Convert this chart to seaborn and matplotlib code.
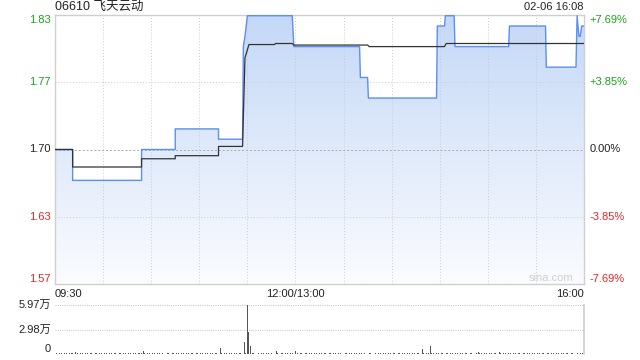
import numpy as np
import pandas as pd
import matplotlib
matplotlib.use("Agg")
import matplotlib.pyplot as plt
import seaborn as sns

# ---------------- data ----------------
title = "06610 飞天云动"
stamp = "02-06 16:08"
pre_close = 1.70

# price line vertices (trading minute since 09:30, lunch removed; price in HKD)
price_min = [0, 11, 11, 54, 54, 75, 75, 102, 102, 117, 117.5, 118.5, 120, 148, 149,
             190, 190.5, 195, 195.5, 238, 238.5, 243, 243.5, 249, 249.5, 283, 283.5,
             306, 306.5, 325, 325.7, 326.8, 327.6, 328.6, 330]
price_val = [1.70, 1.70, 1.67, 1.67, 1.70, 1.70, 1.72, 1.72, 1.71, 1.71, 1.80, 1.81, 1.83, 1.83, 1.80,
             1.80, 1.77, 1.77, 1.75, 1.75, 1.82, 1.82, 1.83, 1.83, 1.80, 1.80, 1.82,
             1.82, 1.78, 1.78, 1.83, 1.81, 1.81, 1.82, 1.82]

# average price line vertices
avg_min = [0, 11, 11, 54, 54, 75, 75, 102, 102, 117, 118.5, 121, 137, 137.5, 148, 149,
           195, 196, 243, 244, 330]
avg_val = [1.70, 1.70, 1.683, 1.683, 1.691, 1.691, 1.694, 1.694, 1.703, 1.703, 1.789, 1.802, 1.802,
           1.803, 1.803, 1.8015, 1.8015, 1.800, 1.800, 1.803, 1.803]

# per-minute volume (unit: 万 shares), 11 rows of 30 minutes
volume = [
    0.10, 0.10, 0.05, 0.10, 0.10, 0.05, 0.10, 0.10, 0.05, 0.10, 0.10, 0.10, 0.05, 0.25, 0.10, 0.05, 0.10, 0.10, 0.05, 0.10, 0.10, 0.05, 0.10, 0.10, 0.05, 0.10, 0.10, 0.05, 0.10, 0.10,
    0.05, 0.10, 0.10, 0.05, 0.10, 0.10, 0.05, 0.10, 0.10, 0.05, 0.10, 0.10, 0.05, 0.10, 0.10, 0.05, 0.10, 0.10, 0.05, 0.10, 0.10, 0.05, 0.10, 0.10, 0.10, 0.37, 0.10, 0.05, 0.10, 0.10,
    0.05, 0.10, 0.10, 0.05, 0.10, 0.10, 0.05, 0.10, 0.10, 0.05, 0.10, 0.10, 0.05, 0.10, 0.10, 0.05, 0.10, 0.10, 0.05, 0.10, 0.10, 0.05, 0.10, 0.10, 0.05, 0.10, 0.10, 0.05, 0.10, 0.10,
    0.05, 0.10, 0.10, 0.05, 0.10, 0.10, 0.05, 0.10, 0.10, 0.05, 0.10, 0.10, 0.05, 0.73, 0.10, 0.05, 0.10, 0.10, 0.05, 0.10, 0.10, 0.05, 0.10, 0.10, 0.05, 0.10, 0.10, 0.05, 1.46, 0.10,
    5.97, 2.68, 0.97, 0.10, 0.10, 0.05, 0.10, 0.10, 0.05, 0.10, 0.10, 0.05, 0.10, 0.10, 0.05, 0.10, 0.10, 0.05, 0.37, 0.10, 0.05, 0.10, 0.10, 0.05, 0.10, 0.10, 0.05, 0.10, 0.10, 0.05,
    0.37, 0.10, 0.05, 0.10, 0.10, 0.05, 0.10, 0.10, 0.05, 0.10, 0.10, 0.05, 0.10, 0.10, 0.05, 0.10, 0.10, 0.05, 0.10, 0.10, 0.05, 0.10, 0.10, 0.05, 0.10, 0.10, 0.05, 0.10, 0.10, 0.05,
    0.05, 0.10, 0.10, 0.05, 0.10, 0.10, 0.05, 0.10, 0.10, 0.05, 0.10, 0.10, 0.05, 0.10, 0.10, 0.05, 0.10, 0.10, 0.05, 0.10, 0.10, 0.05, 0.10, 0.10, 0.05, 0.10, 0.10, 0.05, 0.10, 0.10,
    0.05, 0.10, 0.10, 0.05, 0.10, 0.10, 0.05, 0.10, 0.10, 0.05, 0.10, 0.10, 0.05, 0.10, 0.10, 0.05, 0.10, 0.10, 0.05, 0.60, 0.10, 0.05, 0.10, 0.10, 0.97, 0.10, 0.10, 0.05, 0.10, 0.10,
    0.05, 0.10, 0.10, 0.05, 0.10, 0.10, 0.05, 0.10, 0.10, 0.05, 0.10, 0.10, 0.05, 0.10, 0.10, 0.05, 0.10, 0.10, 0.05, 0.10, 0.10, 0.05, 0.10, 0.10, 0.20, 0.10, 0.10, 0.05, 0.10, 0.10,
    0.05, 0.10, 0.10, 0.05, 0.10, 0.10, 0.05, 0.30, 0.10, 0.05, 0.10, 0.10, 0.05, 0.10, 0.10, 0.05, 0.10, 0.10, 0.05, 0.10, 0.10, 0.05, 0.10, 0.10, 0.05, 0.10, 0.10, 0.05, 0.10, 0.10,
    0.05, 0.10, 0.10, 0.05, 0.10, 0.10, 0.05, 0.10, 0.10, 0.05, 0.10, 0.10, 0.05, 0.10, 0.10, 0.05, 0.10, 0.10, 0.05, 0.10, 0.10, 0.05, 0.10, 0.10, 0.05, 0.10, 0.10, 0.05, 0.10, 0.10,
]
vol_ticks = [0, 2.98, 5.97]
vol_labels = ["0", "2.98万", "5.97万"]

price_ticks = [1.5693, 1.6346, 1.70, 1.7654, 1.8307]
price_labels = ["1.57", "1.63", "1.70", "1.77", "1.83"]
pct_labels = ["-7.69%", "-3.85%", "0.00%", "+3.85%", "+7.69%"]
time_labels = ["09:30", "12:00/13:00", "16:00"]
time_pos = [0, 150, 330]

# ---------------- style ----------------
sns.set_theme(style="white")
plt.rcParams['font.family'] = ['Liberation Sans', 'Noto Sans CJK SC']

GREEN = "#1aa31a"
RED = "#ee2222"
DARK = "#222222"
GRID = "#cccccc"
SPINE = "#cfcfcf"
BLUE = "#5b8ff0"

fig = plt.figure(figsize=(6.4, 3.6), dpi=100)
W, H = 640, 360
L, R = 55, 584
ax = fig.add_axes([L / W, 1 - 284 / H, (R - L) / W, (284 - 15) / H])
axv = fig.add_axes([L / W, 1 - 354 / H, (R - L) / W, (354 - 305) / H])

ymin, ymax = price_ticks[0], price_ticks[-1]
ax.set_xlim(0, 330)
ax.set_ylim(ymin, ymax)

# gradient fill under price line
df_p = pd.DataFrame({"t": price_min, "p": price_val})
df_a = pd.DataFrame({"t": avg_min, "p": avg_val})
poly = ax.fill_between(df_p["t"], df_p["p"], ymin, color="none", lw=0)
grad = np.linspace(0, 1, 256).reshape(-1, 1)
cmap = matplotlib.colors.LinearSegmentedColormap.from_list("g", ["#c4d8f7", "#fbfcff"])
im = ax.imshow(grad, cmap=cmap, aspect="auto", extent=[0, 330, ymin, ymax],
               origin="upper", zorder=1)
path = poly.get_paths()[0]
im.set_clip_path(path, transform=ax.transData)

# grid lines
for t in range(30, 330, 30):
    ax.axvline(t, color=GRID, lw=0.7, ls=(0, (1, 2)), zorder=2)
for yv in price_ticks[1:-1]:
    if yv == pre_close:
        ax.axhline(yv, color="#aaaaaa", lw=0.7, ls=(0, (2, 2)), zorder=2)
    else:
        ax.axhline(yv, color=GRID, lw=0.7, ls=(0, (1, 2)), zorder=2)

sns.lineplot(data=df_p, x="t", y="p", ax=ax, color=BLUE, lw=1.0, estimator=None,
             sort=False, zorder=4)
sns.lineplot(data=df_a, x="t", y="p", ax=ax, color="#333333", lw=0.9, estimator=None,
             sort=False, zorder=5)

ax.set_xlabel("")
ax.set_ylabel("")
ax.set_xticks([])
ax.set_yticks([])
for s in ax.spines.values():
    s.set_color(SPINE)
    s.set_linewidth(1.0)

fs = 8
tr = ax.get_yaxis_transform()
for i, (yv, lab, pl) in enumerate(zip(price_ticks, price_labels, pct_labels)):
    if yv > pre_close:
        col = GREEN
    elif yv < pre_close:
        col = RED
    else:
        col = DARK
    va = "top" if i == len(price_ticks) - 1 else ("bottom" if i == 0 else "center")
    ax.text(-0.008, yv, lab, transform=tr, ha="right", va=va, color=col, fontsize=fs)
    ax.text(1.011, yv, pl, transform=tr, ha="left", va=va, color=col, fontsize=fs)

has = ["left", "center", "right"]
for tp, tl, ha in zip(time_pos, time_labels, has):
    ax.text(tp, -0.018, tl, transform=ax.get_xaxis_transform(), ha=ha, va="top",
            color=DARK, fontsize=fs)

fig.text(L / W, 1 - 7 / H, title, ha="left", va="center", fontsize=9, color=DARK)
fig.text(R / W, 1 - 7 / H, stamp, ha="right", va="center", fontsize=8, color=DARK)
ax.text(0.98, 0.005, "sina.com", transform=ax.transAxes, ha="right", va="bottom",
        color="#d0d0d0", fontsize=8, zorder=6)

# ---------------- volume ----------------
minutes = np.arange(len(volume))
axv.bar(minutes, volume, width=0.6, color="#555555", lw=0)
axv.set_xlim(0, 330)
axv.set_ylim(0, vol_ticks[-1])
for yv in vol_ticks[1:]:
    axv.axhline(yv, color=GRID, lw=0.8, ls=(0, (1, 1)), zorder=0)
axv.set_xticks([])
axv.set_yticks([])
axv.spines["top"].set_visible(False)
axv.spines["left"].set_visible(False)
axv.spines["bottom"].set_visible(False)
axv.spines["right"].set_color(SPINE)
trv = axv.get_yaxis_transform()
for yv, lab in zip(vol_ticks, vol_labels):
    va = "bottom" if yv == 0 else "center"
    axv.text(-0.008, yv, lab, transform=trv, ha="right", va=va, color=DARK, fontsize=fs)

fig.savefig("out.png", dpi=100)
